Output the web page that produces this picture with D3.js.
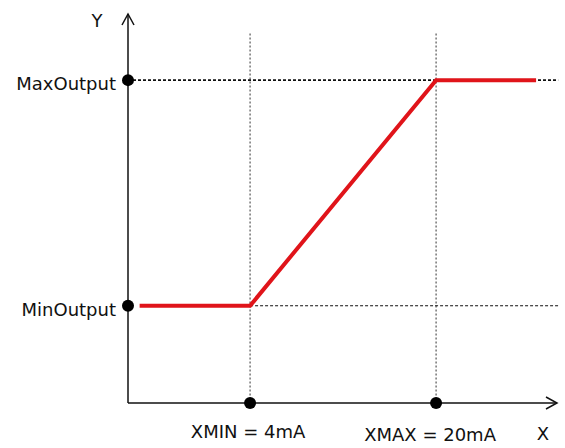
<!DOCTYPE html>
<html>
<head>
<meta charset="utf-8">
<script src="https://cdn.jsdelivr.net/npm/d3@7"></script>
<style>
  body { margin: 0; background: #fff; }
  text { font-family: "DejaVu Sans", sans-serif; fill: #111; }
</style>
</head>
<body>
<svg id="chart" width="565" height="448"></svg>
<script>
// transfer curve (x in mA, y in % of output range)
const curveX = [-5.5, 4, 20, 28.6];
const curveY = [25, 25, 83, 83];

// reference points
const xMarks = [4, 20];
const xMarkLabels = ['XMIN = 4mA', 'XMAX = 20mA'];
const yMarks = [25, 83];
const yMarkLabels = ['MinOutput', 'MaxOutput'];

const svg = d3.select('#chart');

const xScale = d3.scaleLinear().domain([-6.5, 30.4]).range([128, 557]);
const yScale = d3.scaleLinear().domain([0, 100]).range([403, 14]);

const x0 = xScale(-6.5);
const y0 = yScale(0);
const xEnd = xScale(30.4);
const yTop = yScale(100);

// dashed guides
// vertical ones from the top down to x axis
svg.selectAll('.vguide').data(xMarks).join('line')
  .attr('class', 'vguide')
  .attr('x1', d => xScale(d)).attr('x2', d => xScale(d))
  .attr('y1', yScale(95)).attr('y2', y0)
  .attr('stroke', '#555').attr('stroke-width', 1.2)
  .attr('stroke-dasharray', '2,2');

// horizontal: max from y axis, min from XMIN
svg.selectAll('.hguide').data(yMarks).join('line')
  .attr('class', 'hguide')
  .attr('x1', (d, i) => i === 0 ? xScale(xMarks[0]) : x0)
  .attr('x2', xScale(30.5))
  .attr('y1', d => yScale(d)).attr('y2', d => yScale(d))
  .attr('stroke', '#111').attr('stroke-width', (d, i) => i === 0 ? 1.2 : 1.6)
  .attr('stroke-dasharray', '3,2');

// axes with open arrow heads
const axisG = svg.append('g').attr('stroke', '#111').attr('stroke-width', 1.5).attr('fill', 'none');
axisG.append('path').attr('d', `M${x0},${y0}V${yTop}`);
axisG.append('path').attr('d', `M${x0},${y0}H${xEnd}`);
axisG.append('path').attr('d', `M${x0 - 6},${yTop + 11}L${x0},${yTop}L${x0 + 6},${yTop + 11}`);
axisG.append('path').attr('d', `M${xEnd - 11},${y0 - 6}L${xEnd},${y0}L${xEnd - 11},${y0 + 6}`);

// the red curve
const line = d3.line()
  .x((d, i) => xScale(curveX[i]))
  .y((d, i) => yScale(curveY[i]));

svg.append('path')
  .datum(curveX)
  .attr('d', line)
  .attr('fill', 'none')
  .attr('stroke', '#e0141a')
  .attr('stroke-width', 4)
  .attr('stroke-linejoin', 'miter');

// dots on axes
svg.selectAll('.ydot').data(yMarks).join('circle')
  .attr('cx', x0).attr('cy', d => yScale(d)).attr('r', 6).attr('fill', '#000');
svg.selectAll('.xdot').data(xMarks).join('circle')
  .attr('cx', d => xScale(d)).attr('cy', y0).attr('r', 6).attr('fill', '#000');

// labels
svg.selectAll('.ylab').data(yMarks).join('text')
  .attr('x', x0 - 12).attr('y', d => yScale(d) + 10)
  .attr('text-anchor', 'end').attr('font-size', 18)
  .text((d, i) => yMarkLabels[i]);

svg.selectAll('.xlab').data(xMarks).join('text')
  .attr('x', (d, i) => xScale(d) + (i === 0 ? -2 : -6))
  .attr('y', (d, i) => i === 0 ? 438 : 441)
  .attr('text-anchor', 'middle').attr('font-size', 18)
  .text((d, i) => xMarkLabels[i]);

svg.append('text').attr('x', 97).attr('y', 27)
  .attr('text-anchor', 'middle').attr('font-size', 18).text('Y');
svg.append('text').attr('x', 543).attr('y', 440)
  .attr('text-anchor', 'middle').attr('font-size', 18).text('X');
</script>
</body>
</html>
